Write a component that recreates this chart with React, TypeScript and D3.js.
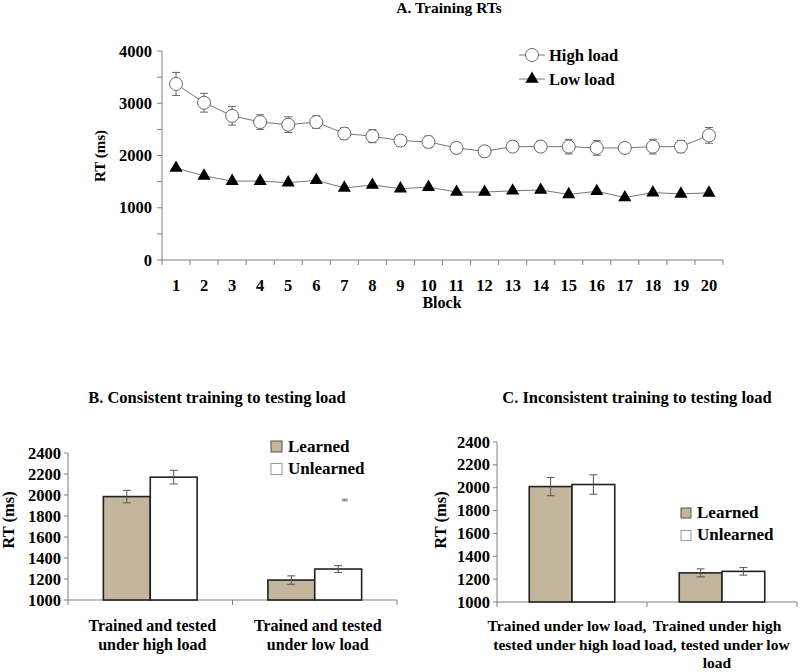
import React from "react";
import * as d3 from "d3";

// ---------- Panel A data ----------
const blocks = ["1","2","3","4","5","6","7","8","9","10","11","12","13","14","15","16","17","18","19","20"];
const highLoad = [3370, 3010, 2760, 2640, 2590, 2640, 2420, 2370, 2285, 2260, 2145, 2080, 2170, 2170, 2170, 2145, 2145, 2170, 2170, 2385];
const highLoadErr = [220, 180, 180, 140, 150, 120, 110, 125, 100, 110, 100, 90, 95, 95, 140, 140, 100, 140, 115, 150];
const lowLoad = [1760, 1610, 1510, 1510, 1480, 1525, 1380, 1435, 1365, 1395, 1300, 1300, 1325, 1340, 1255, 1315, 1195, 1290, 1265, 1285];
const lowLoadErr = [45, 45, 40, 40, 40, 40, 40, 40, 40, 40, 40, 40, 40, 45, 40, 45, 40, 40, 40, 40];
const yTicksA = [0, 1000, 2000, 3000, 4000];
const yMinorA = [500, 1500, 2500, 3500];

// ---------- Panel B data ----------
const consistentCats = [["Trained and tested", "under high load"], ["Trained and tested", "under low load"]];
const consistentLearned = [1985, 1190];
const consistentLearnedErr = [60, 40];
const consistentUnlearned = [2170, 1295];
const consistentUnlearnedErr = [65, 32];
const consistentStray = [{ cat: 1, value: 1952, err: 8 }];

// ---------- Panel C data ----------
const inconsistentCats = [["Trained under low load,", "tested under high load"], ["Trained under high", "load, tested under low", "load"]];
const inconsistentLearned = [2010, 1255];
const inconsistentLearnedErr = [80, 35];
const inconsistentUnlearned = [2028, 1268];
const inconsistentUnlearnedErr = [85, 33];

const barTicks = [1000, 1200, 1400, 1600, 1800, 2000, 2200, 2400];

const FONT = '"Liberation Serif", "Times New Roman", serif';
const TAN = "#c3b69d";
const AXIS = "#808080";

function ErrBar({ x, y0, y1, cap, color }: { x: number; y0: number; y1: number; cap: number; color: string }) {
  return (
    <g stroke={color} strokeWidth={1}>
      <line x1={x} x2={x} y1={y0} y2={y1} />
      <line x1={x - cap / 2} x2={x + cap / 2} y1={y0} y2={y0} />
      <line x1={x - cap / 2} x2={x + cap / 2} y1={y1} y2={y1} />
    </g>
  );
}

function PanelA() {
  const x = d3.scaleBand<string>().domain(blocks).range([162, 723]);
  const y = d3.scaleLinear().domain([0, 4000]).range([260, 51]);
  const cx = (i: number) => (x(blocks[i]) as number) + x.bandwidth() / 2;
  const line = d3.line<number>().x((_, i) => cx(i)).y((d) => y(d));
  const tri = d3.symbol().type(d3.symbolTriangle).size(75)();
  const tickXs = blocks.map((b) => x(b) as number).concat([723]);
  return (
    <g>
      <text x={449} y={13} textAnchor="middle" fontSize={15.5} fontWeight="bold">A. Training RTs</text>
      {/* axes */}
      <line x1={162} x2={162} y1={y(4000)} y2={y(0)} stroke={AXIS} />
      <line x1={162} x2={723} y1={y(0)} y2={y(0)} stroke={AXIS} />
      {yTicksA.concat(yMinorA).map((t) => (
        <line key={"yt" + t} x1={157} x2={162} y1={y(t)} y2={y(t)} stroke={AXIS} />
      ))}
      {yTicksA.map((t) => (
        <text key={"yl" + t} x={152} y={y(t) + 5.5} textAnchor="end" fontSize={16.5} fontWeight="bold">{t}</text>
      ))}
      {tickXs.map((tx, i) => (
        <line key={"xt" + i} x1={tx} x2={tx} y1={y(0)} y2={y(0) + 5} stroke={AXIS} />
      ))}
      {blocks.map((b, i) => (
        <text key={"xl" + b} x={cx(i)} y={291} textAnchor="middle" fontSize={16.5} fontWeight="bold">{b}</text>
      ))}
      <text x={442} y={308} textAnchor="middle" fontSize={16} fontWeight="bold">Block</text>
      <text transform={`translate(105,156) rotate(-90)`} textAnchor="middle" fontSize={15} fontWeight="bold">RT (ms)</text>
      {/* lines */}
      <path d={line(highLoad) as string} fill="none" stroke="#777" strokeWidth={1} />
      <path d={line(lowLoad) as string} fill="none" stroke="#777" strokeWidth={1} />
      {highLoad.map((v, i) => (
        <ErrBar key={"he" + i} x={cx(i)} y0={y(v + highLoadErr[i])} y1={y(v - highLoadErr[i])} cap={8} color="#666" />
      ))}
      {lowLoad.map((v, i) => (
        <ErrBar key={"le" + i} x={cx(i)} y0={y(v + lowLoadErr[i])} y1={y(v - lowLoadErr[i])} cap={6} color="#666" />
      ))}
      {highLoad.map((v, i) => (
        <circle key={"hc" + i} cx={cx(i)} cy={y(v)} r={6.5} fill="#fff" stroke="#666" strokeWidth={1} />
      ))}
      {lowLoad.map((v, i) => (
        <path key={"lt" + i} d={tri as string} transform={`translate(${cx(i)},${y(v)})`} fill="#000" />
      ))}
      {/* legend */}
      <line x1={519} x2={545} y1={55} y2={55} stroke="#777" />
      <circle cx={532} cy={55} r={6.5} fill="#fff" stroke="#666" />
      <text x={549} y={60.5} fontSize={16.5} fontWeight="bold">High load</text>
      <line x1={519} x2={545} y1={79} y2={79} stroke="#777" />
      <path d={tri as string} transform="translate(532,79)" fill="#000" />
      <text x={549} y={84.5} fontSize={16.5} fontWeight="bold">Low load</text>
    </g>
  );
}

type BarPanelProps = {
  title: string;
  titleX: number;
  x0: number;
  x1: number;
  yBottom: number;
  yTop: number;
  cats: string[][];
  learned: number[];
  learnedErr: number[];
  unlearned: number[];
  unlearnedErr: number[];
  stray?: { cat: number; value: number; err: number }[];
  legendX: number;
  legendY: number;
  legendBox: number;
  labelX: number;
  labelOffsets: number[];
  labelSize: number;
};

function BarPanel(p: BarPanelProps) {
  const keys = p.cats.map((_, i) => String(i));
  const x = d3.scaleBand<string>().domain(keys).range([p.x0, p.x1]);
  const y = d3.scaleLinear().domain([1000, 2400]).range([p.yBottom, p.yTop]);
  const bw = x.bandwidth() * 0.285;
  const center = (i: number) => (x(keys[i]) as number) + x.bandwidth() / 2;
  const series = [
    { vals: p.learned, errs: p.learnedErr, fill: TAN, off: -bw },
    { vals: p.unlearned, errs: p.unlearnedErr, fill: "#fff", off: 0 },
  ];
  const ticksX = keys.map((k) => x(k) as number).concat([p.x1]);
  return (
    <g>
      <text x={p.titleX} y={403} textAnchor="middle" fontSize={16.5} fontWeight="bold">{p.title}</text>
      <line x1={p.x0} x2={p.x0} y1={y(2400)} y2={y(1000)} stroke={AXIS} />
      <line x1={p.x0} x2={p.x1} y1={y(1000)} y2={y(1000)} stroke={AXIS} />
      {barTicks.map((t) => (
        <g key={"t" + t}>
          <line x1={p.x0 - 4} x2={p.x0} y1={y(t)} y2={y(t)} stroke={AXIS} />
          <text x={p.x0 - 7} y={y(t) + 5.5} textAnchor="end" fontSize={16.5} fontWeight="bold">{t}</text>
        </g>
      ))}
      {ticksX.map((tx, i) => (
        <line key={"xt" + i} x1={tx} x2={tx} y1={y(1000)} y2={y(1000) + 5} stroke={AXIS} />
      ))}
      <text transform={`translate(${p.labelX},520) rotate(-90)`} textAnchor="middle" fontSize={16.5} fontWeight="bold">RT (ms)</text>
      {series.map((s, si) =>
        s.vals.map((v, i) => (
          <rect key={`b${si}-${i}`} x={center(i) + s.off} y={y(v)} width={bw} height={y(1000) - y(v)} fill={s.fill} stroke="#222" strokeWidth={1.6} />
        ))
      )}
      {series.map((s, si) =>
        s.vals.map((v, i) => (
          <ErrBar key={`e${si}-${i}`} x={center(i) + s.off + bw / 2} y0={y(v + s.errs[i])} y1={y(v - s.errs[i])} cap={8} color="#555" />
        ))
      )}
      {(p.stray || []).map((s, i) => (
        <ErrBar key={"s" + i} x={center(s.cat) + bw * 0.64} y0={y(s.value + s.err)} y1={y(s.value - s.err)} cap={6} color="#777" />
      ))}
      {p.cats.map((lines, i) => (
        <text key={"c" + i} textAnchor="middle" fontSize={p.labelSize} fontWeight="bold">
          {lines.map((l, j) => (
            <tspan key={j} x={center(i) + p.labelOffsets[i]} y={631 + j * 18.5}>{l}</tspan>
          ))}
        </text>
      ))}
      {/* legend */}
      <rect x={p.legendX} y={p.legendY} width={p.legendBox} height={p.legendBox} fill={TAN} stroke="#555" strokeWidth={1} />
      <text x={p.legendX + p.legendBox + 6} y={p.legendY + p.legendBox - 0.5} fontSize={17} fontWeight="bold">Learned</text>
      <rect x={p.legendX} y={p.legendY + 22.5} width={p.legendBox} height={p.legendBox} fill="#fff" stroke="#999" strokeWidth={1} />
      <text x={p.legendX + p.legendBox + 6} y={p.legendY + 22.5 + p.legendBox - 0.5} fontSize={17} fontWeight="bold">Unlearned</text>
    </g>
  );
}

export default function App() {
  return (
    <svg width={800} height={672} style={{ position: "absolute", left: 0, top: 0, background: "#fff" }} fontFamily={FONT}>
      <rect x={0} y={0} width={800} height={672} fill="#fff" />
      <PanelA />
      <BarPanel
        title="B. Consistent training to testing load"
        titleX={217}
        x0={68}
        x1={397}
        yBottom={600}
        yTop={453}
        cats={consistentCats}
        learned={consistentLearned}
        learnedErr={consistentLearnedErr}
        unlearned={consistentUnlearned}
        unlearnedErr={consistentUnlearnedErr}
        stray={consistentStray}
        legendX={271}
        legendY={441}
        legendBox={11}
        labelX={14}
        labelOffsets={[2, 3]}
        labelSize={16}
      />
      <BarPanel
        title="C. Inconsistent training to testing load"
        titleX={637}
        x0={497}
        x1={797}
        yBottom={602}
        yTop={442}
        cats={inconsistentCats}
        learned={inconsistentLearned}
        learnedErr={inconsistentLearnedErr}
        unlearned={inconsistentUnlearned}
        unlearnedErr={inconsistentUnlearnedErr}
        legendX={681}
        legendY={508}
        legendBox={10}
        labelX={446}
        labelOffsets={[-5, -5]}
        labelSize={15.5}
      />
    </svg>
  );
}
